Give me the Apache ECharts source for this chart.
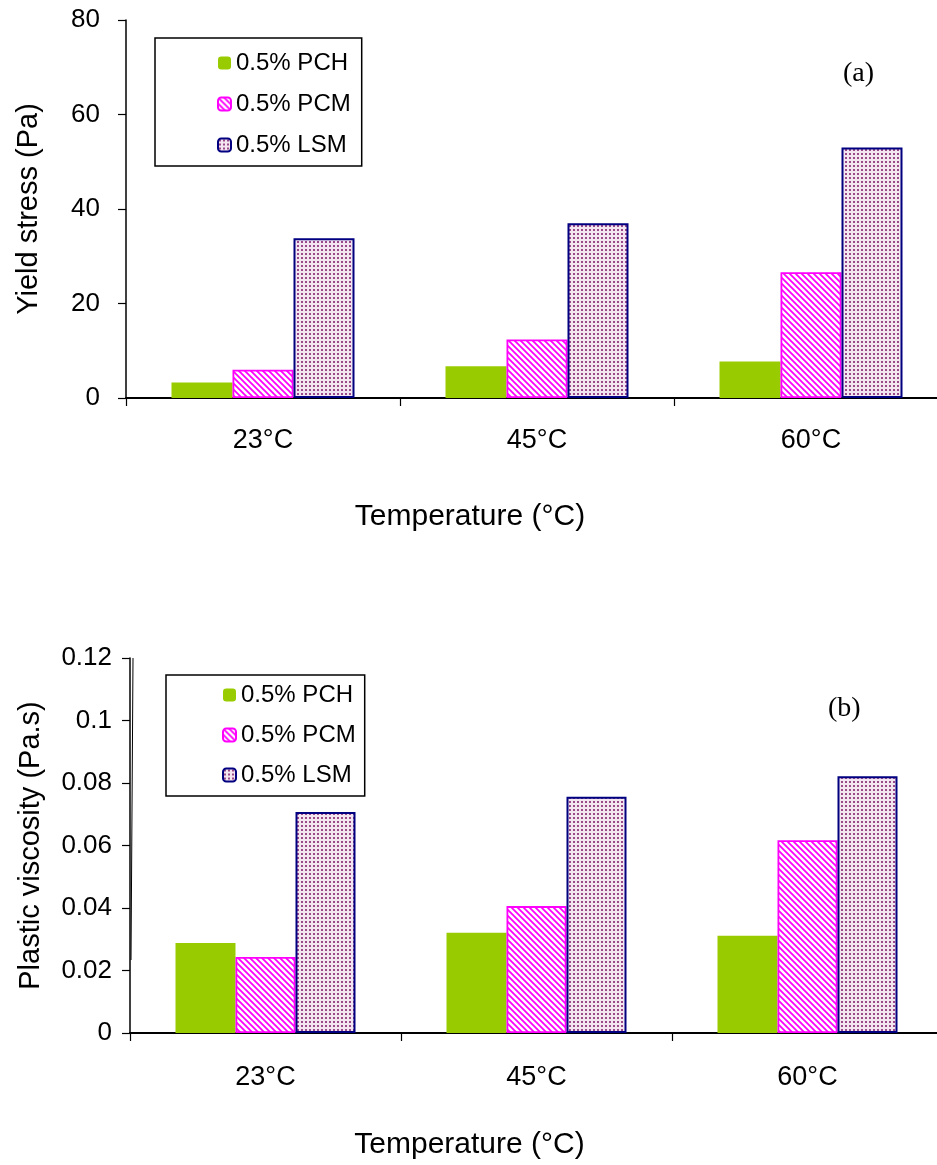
<!DOCTYPE html>
<html>
<head>
<meta charset="utf-8">
<script src="https://cdn.jsdelivr.net/npm/echarts@6/dist/echarts.min.js"></script>
<style>html,body{margin:0;padding:0;background:#fff}#c{width:937px;height:1165px}</style>
</head>
<body>
<div id="c"></div>
<script>
const categories = ['23°C', '45°C', '60°C'];
const seriesNames = ['0.5% PCH', '0.5% PCM', '0.5% LSM'];
const yieldPCH = [3.3, 6.7, 7.7];
const yieldPCM = [6.0, 12.4, 26.6];
const yieldLSM = [33.8, 37.0, 53.0];
const viscPCH = [0.0288, 0.0321, 0.0311];
const viscPCM = [0.0243, 0.0406, 0.0617];
const viscLSM = [0.0707, 0.0756, 0.0822];

function stripePattern() {
  const c = document.createElement('canvas');
  c.width = 6; c.height = 6;
  const g = c.getContext('2d');
  g.fillStyle = '#ffffff'; g.fillRect(0, 0, 6, 6);
  g.strokeStyle = '#ff00ff'; g.lineWidth = 1.8;
  g.beginPath();
  g.moveTo(-1, -1); g.lineTo(7, 7);
  g.moveTo(-4, 2); g.lineTo(4, 10);
  g.moveTo(2, -4); g.lineTo(10, 4);
  g.stroke();
  return c;
}
function dotPattern() {
  const c = document.createElement('canvas');
  c.width = 4; c.height = 4;
  const g = c.getContext('2d');
  g.fillStyle = '#f4e6f1'; g.fillRect(0, 0, 4, 4);
  g.fillStyle = '#9a4a88'; g.fillRect(1, 1, 2, 2);
  return c;
}
const styles = [
  { color: '#99cc00' },
  { color: { image: stripePattern(), repeat: 'repeat' }, borderColor: '#ff00ff', borderWidth: 1.8 },
  { color: { image: dotPattern(), repeat: 'repeat' }, borderColor: '#000080', borderWidth: 2 }
];

const font = 'Liberation Sans, Arial, sans-serif';
const chart = echarts.init(document.getElementById('c'), null, { renderer: 'canvas' });

function mkSeries(idx, datas, bw) {
  return datas.map((d, i) => ({
    type: 'bar', name: seriesNames[i], xAxisIndex: idx, yAxisIndex: idx,
    data: d, barWidth: bw, barGap: '0%', itemStyle: styles[i], animation: false
  }));
}
function xAx(idx, nameGap, labelMargin) {
  return {
    type: 'category', gridIndex: idx, data: categories,
    axisLine: { lineStyle: { color: '#000', width: 2 } },
    axisTick: { show: true, length: 8, lineStyle: { color: '#000', width: 1.2 } },
    axisLabel: { color: '#000', fontSize: 27, fontFamily: font, margin: labelMargin },
    name: 'Temperature (°C)', nameLocation: 'middle', nameGap: nameGap,
    nameTextStyle: { color: '#000', fontSize: 30, fontFamily: font, padding: [0, 134, 0, 0] }
  };
}
function yAx(idx, max, interval, name, nameGap, labelMargin) {
  return {
    type: 'value', gridIndex: idx, min: 0, max: max, interval: interval,
    splitLine: { show: false },
    axisLine: { show: true, lineStyle: { color: '#000', width: 1.5 } },
    axisTick: { show: true, inside: false, length: 8, lineStyle: { color: '#000', width: 1.2 } },
    axisLabel: { color: '#000', fontSize: 26, fontFamily: font, margin: labelMargin },
    name: name, nameLocation: 'middle', nameGap: nameGap,
    nameTextStyle: { color: '#000', fontSize: 29, fontFamily: font }
  };
}
function legendAt(left, top, pad, gap) {
  return {
    orient: 'vertical', left: left, top: top, data: seriesNames,
    itemWidth: 13, itemHeight: 13, itemGap: gap, padding: pad,
    borderColor: '#000', borderWidth: 1.5,
    textStyle: { color: '#000', fontSize: 24, fontFamily: font },
    selectedMode: false
  };
}

chart.setOption({
  animation: false,
  backgroundColor: '#fff',
  grid: [
    { left: 126, top: 20, width: 822, height: 378, outerBoundsMode: 'none', containLabel: false },
    { left: 130, top: 658, width: 813, height: 375, outerBoundsMode: 'none', containLabel: false }
  ],
  xAxis: [xAx(0, 104, 29), xAx(1, 97, 31)],
  yAxis: [
    yAx(0, 80, 20, 'Yield stress (Pa)', 83, 26),
    yAx(1, 0.12, 0.02, 'Plastic viscosity (Pa.s)', 85, 18)
  ],
  legend: [
    legendAt(155, 38, [13, 11, 9, 62], 17),
    legendAt(166, 675, [8, 9, 9, 56], 16)
  ],
  graphic: [
    { type: 'text', left: 843, top: 60, style: { text: '(a)', fontSize: 28, fontFamily: 'Liberation Serif, Times New Roman, serif', fill: '#000' } },
    { type: 'text', left: 828, top: 695, style: { text: '(b)', fontSize: 28, fontFamily: 'Liberation Serif, Times New Roman, serif', fill: '#000' } },
    { type: 'line', shape: { x1: 133, y1: 658, x2: 131, y2: 960 }, style: { stroke: '#000', lineWidth: 1 } }
  ],
  series: [].concat(
    mkSeries(0, [yieldPCH, yieldPCM, yieldLSM], 61),
    mkSeries(1, [viscPCH, viscPCM, viscLSM], 60)
  )
});
</script>
</body>
</html>
